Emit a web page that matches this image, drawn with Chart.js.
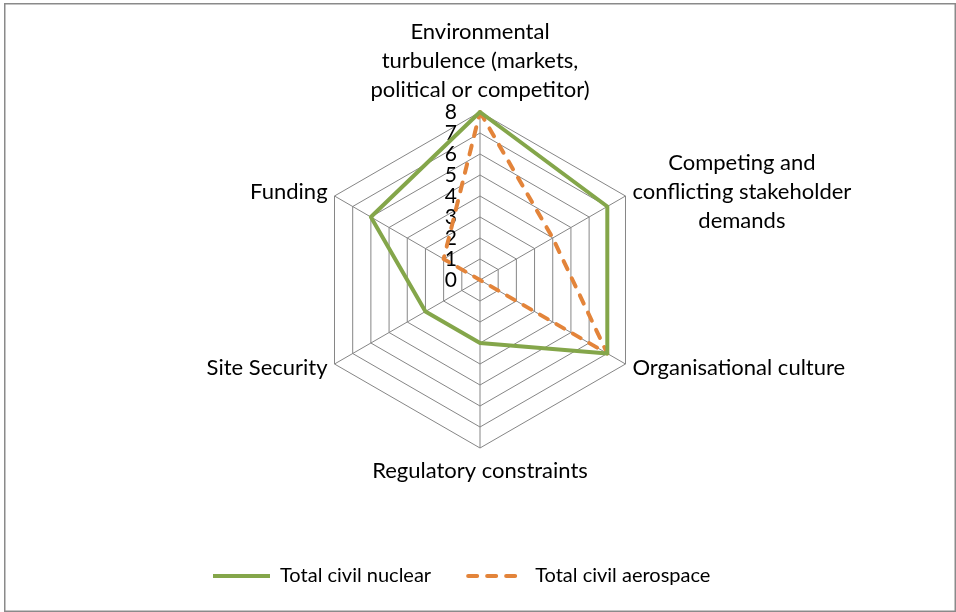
<!DOCTYPE html>
<html>
<head>
<meta charset="utf-8">
<script src="https://cdn.jsdelivr.net/npm/chart.js@4.4.0/dist/chart.umd.min.js"></script>
<style>
  html, body { margin: 0; padding: 0; background: #fff; }
  #wrap { width: 956px; height: 612px; }
</style>
</head>
<body>
<div id="wrap"><canvas id="chart" width="956" height="612"></canvas></div>
<script>
const categories = [
  ["Environmental", "turbulence (markets,", "political or competitor)"],
  ["Competing and", "conflicting stakeholder", "demands"],
  ["Organisational culture"],
  ["Regulatory constraints"],
  ["Site Security"],
  ["Funding"]
];
const tickLabels = ["0", "1", "2", "3", "4", "5", "6", "7", "8"];
const nuclearValues = [8, 7, 7, 3, 3, 6];
const aerospaceValues = [8, 4, 7, 0, 0, 2];

const FONT = "Lato, 'Open Sans', sans-serif";
const LABEL_SIZE = 22;
const TICK_SIZE = 21;
const LEGEND_SIZE = 20;
const LINE_HEIGHT = 29;
const GRID = "#868686";
const GREEN = "#84a64a";
const ORANGE = "#e3843a";

// frame round the whole picture
const framePlugin = {
  id: "frame",
  beforeDraw(chart) {
    const ctx = chart.ctx;
    ctx.save();
    ctx.fillStyle = "#fff";
    ctx.fillRect(0, 0, chart.width, chart.height);
    ctx.strokeStyle = "#8a8a8a";
    ctx.lineWidth = 1.5;
    ctx.strokeRect(4.75, 3.75, 950.5, 607.5);
    ctx.restore();
  }
};

// tick numbers sit to the left of the vertical axis
const tickPlugin = {
  id: "tickText",
  beforeDatasetsDraw(chart) {
    const scale = chart.scales.r;
    const ctx = chart.ctx;
    ctx.save();
    ctx.font = TICK_SIZE + "px " + FONT;
    ctx.fillStyle = "#000";
    ctx.textAlign = "right";
    ctx.textBaseline = "middle";
    tickLabels.forEach(label => {
      const y = scale.yCenter - scale.getDistanceFromCenterForValue(Number(label));
      ctx.fillText(label, scale.xCenter - 23, y);
    });
    ctx.restore();
  }
};

// category names placed the way the spreadsheet does it
const pointLabelPlugin = {
  id: "pointText",
  afterDraw(chart) {
    const scale = chart.scales.r;
    const ctx = chart.ctx;
    ctx.save();
    ctx.font = LABEL_SIZE + "px " + FONT;
    ctx.fillStyle = "#000";
    ctx.textBaseline = "middle";
    chart.data.labels.forEach((lines, i) => {
      const p = scale.getPointPosition(i, scale.drawingArea + 8);
      const c = Math.cos(p.angle);
      const s = Math.sin(p.angle);
      const h = lines.length * LINE_HEIGHT;
      const maxW = Math.max(...lines.map(t => ctx.measureText(t).width));
      let top;
      let x = p.x;
      if (Math.abs(c) < 0.1) {
        top = s < 0 ? p.y - h : p.y;
      } else {
        top = p.y - h / 2;
        x = c > 0 ? p.x + maxW / 2 : p.x - maxW / 2;
      }
      ctx.textAlign = "center";
      lines.forEach((t, j) => {
        ctx.fillText(t, x, top + LINE_HEIGHT * j + LINE_HEIGHT / 2);
      });
    });
    ctx.restore();
  }
};

new Chart(document.getElementById("chart"), {
  type: "radar",
  data: {
    labels: categories,
    datasets: [
      {
        label: "Total civil nuclear",
        data: nuclearValues,
        borderColor: GREEN,
        backgroundColor: GREEN,
        borderWidth: 4,
        borderJoinStyle: "round",
        fill: false,
        pointRadius: 0,
        pointHoverRadius: 0
      },
      {
        label: "Total civil aerospace",
        data: aerospaceValues,
        borderColor: ORANGE,
        backgroundColor: ORANGE,
        borderWidth: 4,
        borderDash: [9, 10],
        borderCapStyle: "round",
        borderJoinStyle: "round",
        fill: false,
        pointRadius: 0,
        pointHoverRadius: 0
      }
    ]
  },
  options: {
    responsive: false,
    devicePixelRatio: 1,
    animation: false,
    layout: {
      padding: { top: 112, left: 176, right: 172, bottom: 16 }
    },
    scales: {
      r: {
        min: 0,
        max: 8,
        ticks: { display: false, stepSize: 1 },
        pointLabels: { display: false },
        grid: { color: GRID, lineWidth: 1, circular: false },
        angleLines: { color: GRID, lineWidth: 1 }
      }
    },
    plugins: {
      tooltip: { enabled: false },
      legend: {
        position: "bottom",
        align: "start",
        title: {
          display: true,
          text: "",
          font: { size: 10, lineHeight: 1 },
          padding: { top: 71, bottom: 0 }
        },
        labels: {
          usePointStyle: true,
          pointStyle: "line",
          pointStyleWidth: 57,
          padding: 37,
          color: "#000",
          font: { family: FONT, size: LEGEND_SIZE },
          generateLabels(chart) {
            return chart.data.datasets.map((ds, i) => ({
              text: ds.label,
              datasetIndex: i,
              strokeStyle: ds.borderColor,
              fillStyle: ds.borderColor,
              lineWidth: ds.borderWidth,
              lineDash: ds.borderDash || [],
              lineCap: ds.borderCapStyle || "butt",
              pointStyle: "line",
              hidden: false,
              fontColor: "#000"
            }));
          }
        }
      }
    }
  },
  plugins: [framePlugin, tickPlugin, pointLabelPlugin]
});
</script>
</body>
</html>
